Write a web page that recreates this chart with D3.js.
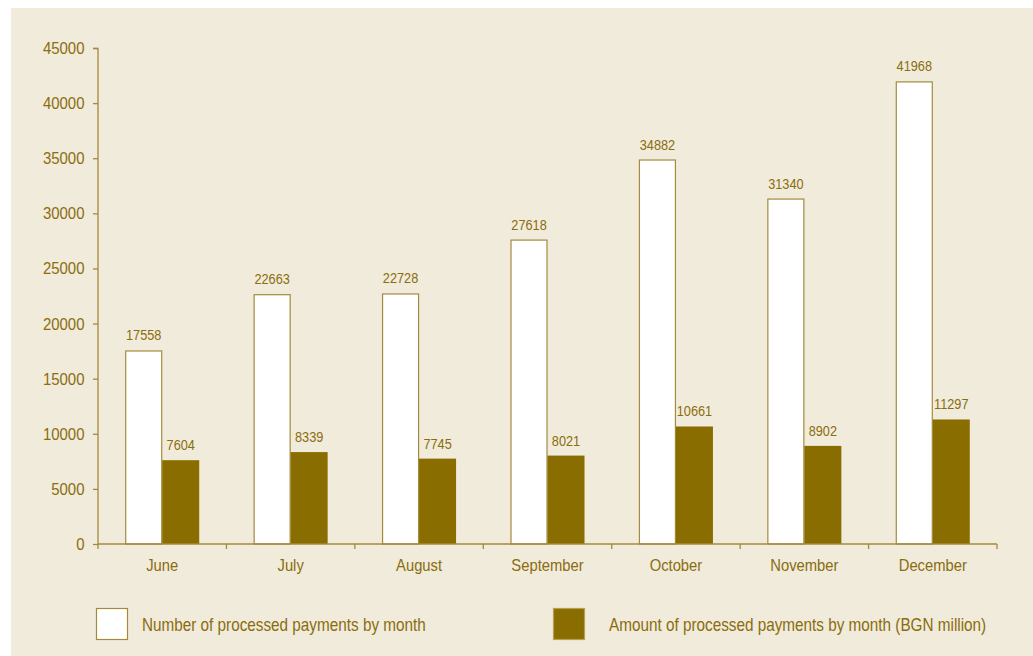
<!DOCTYPE html>
<html>
<head>
<meta charset="utf-8">
<script src="https://cdn.jsdelivr.net/npm/d3@7"></script>
<style>
  html, body { margin: 0; padding: 0; background: #ffffff; }
  svg { display: block; }
  text { font-family: "Liberation Sans", Arial, sans-serif; fill: #8a6d0c; }
</style>
</head>
<body>
<svg id="chart" width="1033" height="656"></svg>
<script>
// Monthly payment figures
const months = ["June", "July", "August", "September", "October", "November", "December"];
const paymentCount = [17558, 22663, 22728, 27618, 34882, 31340, 41968];
const paymentAmount = [7604, 8339, 7745, 8021, 10661, 8902, 11297];
const seriesNames = ["Number of processed payments by month", "Amount of processed payments by month (BGN million)"];
const yTicks = [0, 5000, 10000, 15000, 20000, 25000, 30000, 35000, 40000, 45000];

const gold = "#8a6d0c";
const axisColor = "#a48a3c";
const darkFill = "#896d00";
const lightFill = "#ffffff";

const svg = d3.select("#chart");

// Condensed-looking text: regular face squeezed horizontally
function condensed(sel, sx) {
  return sel.attr("transform", function () {
    const t = d3.select(this);
    const px = +t.attr("data-x"), py = +t.attr("data-y");
    return `translate(${px},${py}) scale(${sx},1)`;
  });
}

// Panel background
svg.append("rect").attr("x", 11).attr("y", 8).attr("width", 1022).attr("height", 648).attr("fill", "#f1ebdc");

const plotLeft = 98, plotRight = 997, plotTop = 48, plotBottom = 544;

const x = d3.scaleBand().domain(months).range([plotLeft, plotRight]).padding(0);
const groupW = 74;
const xs = d3.scaleBand().domain([0, 1])
  .range([(x.bandwidth() - groupW) / 2, (x.bandwidth() + groupW) / 2]).padding(0);
const y = d3.scaleLinear().domain([0, 45000]).range([plotBottom, plotTop]);

const rows = months.map((m, i) => ({ month: m, values: [paymentCount[i], paymentAmount[i]] }));

// Bars
const groups = svg.append("g").selectAll("g").data(rows).join("g")
  .attr("transform", d => `translate(${x(d.month)},0)`);

groups.selectAll("rect").data(d => d.values.map((v, k) => ({ v, k }))).join("rect")
  .attr("x", d => xs(d.k) + (d.k === 0 ? 0.5 : 0))
  .attr("y", d => y(d.v) + (d.k === 0 ? 0.5 : 0))
  .attr("width", d => xs.bandwidth() - (d.k === 0 ? 1 : 0))
  .attr("height", d => plotBottom - y(d.v) - (d.k === 0 ? 0.5 : 0))
  .attr("fill", d => d.k === 0 ? lightFill : darkFill)
  .attr("stroke", d => d.k === 0 ? axisColor : "none")
  .attr("stroke-width", 1.2);

// Value labels
condensed(groups.selectAll("text.val").data(d => d.values.map((v, k) => ({ v, k }))).join("text")
  .attr("class", "val")
  .attr("data-x", d => xs(d.k) + xs.bandwidth() / 2)
  .attr("data-y", d => y(d.v) - 10)
  .attr("text-anchor", "middle")
  .attr("font-size", 15)
  .text(d => d.v), 0.85);

// Y axis
const yAxis = svg.append("g").attr("transform", `translate(${plotLeft},0)`)
  .call(d3.axisLeft(y).tickValues(yTicks).tickSize(5).tickFormat(""));
yAxis.select(".domain").attr("stroke", axisColor).attr("stroke-width", 1.3).attr("d", `M-5,${plotTop + 0.5}H0V${plotBottom}`);
yAxis.selectAll(".tick line").attr("stroke", axisColor).attr("stroke-width", 1.3);
yAxis.selectAll(".tick text").remove();
condensed(svg.append("g").selectAll("text").data(yTicks).join("text")
  .attr("data-x", plotLeft - 13.5)
  .attr("data-y", d => y(d) + 6)
  .attr("text-anchor", "end")
  .attr("font-size", 17)
  .text(d => d3.format("d")(d)), 0.88);

// X axis with ticks at category boundaries
const xAxis = svg.append("g").attr("transform", `translate(0,${plotBottom})`);
xAxis.append("line").attr("x1", plotLeft).attr("x2", plotRight).attr("y1", 0).attr("y2", 0)
  .attr("stroke", axisColor).attr("stroke-width", 1.3);
const bounds = months.map(m => x(m)).concat([plotRight]);
xAxis.selectAll("line.tk").data(bounds).join("line").attr("class", "tk")
  .attr("x1", d => d).attr("x2", d => d).attr("y1", 0).attr("y2", 5)
  .attr("stroke", axisColor).attr("stroke-width", 1.3);
condensed(xAxis.selectAll("text").data(months).join("text")
  .attr("data-x", d => x(d) + x.bandwidth() / 2)
  .attr("data-y", 26.5)
  .attr("text-anchor", "middle")
  .attr("font-size", 17)
  .text(d => d), 0.87);

// Legend
const legendItems = [
  { name: seriesNames[0], fill: lightFill, stroke: axisColor, x: 96, tx: 142 },
  { name: seriesNames[1], fill: darkFill, stroke: "#b79f52", x: 553, tx: 609 }
];
const lg = svg.append("g").selectAll("g").data(legendItems).join("g");
lg.append("rect").attr("x", d => d.x + 0.5).attr("y", 608.5).attr("width", 31).attr("height", 31)
  .attr("fill", d => d.fill).attr("stroke", d => d.stroke).attr("stroke-width", 1.2);
condensed(lg.append("text").attr("data-x", d => d.tx).attr("data-y", 630.5)
  .attr("font-size", 18).text(d => d.name), 0.85);
</script>
</body>
</html>
